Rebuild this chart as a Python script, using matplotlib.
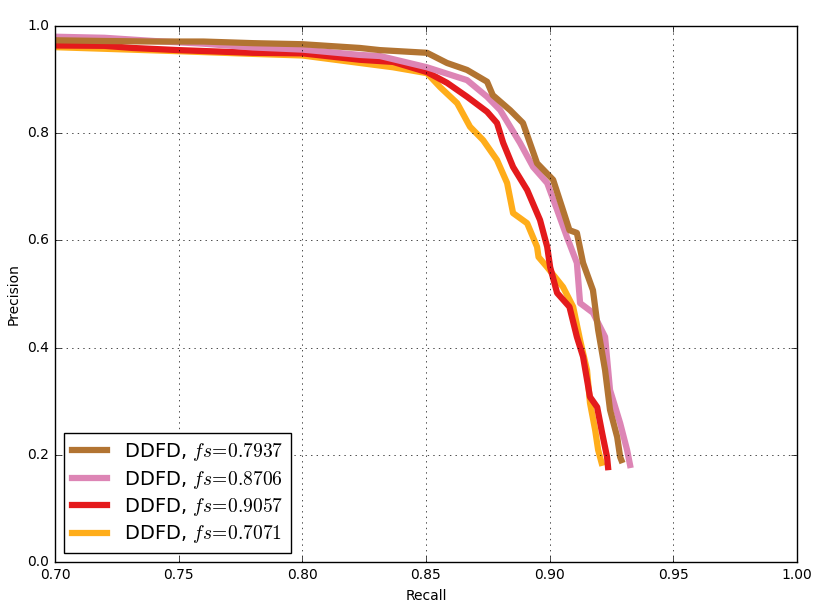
import numpy as np
import matplotlib
matplotlib.use('Agg')
import matplotlib.pyplot as plt

plt.style.use('classic')
plt.rcParams['font.size'] = 10
plt.rcParams['figure.facecolor'] = 'white'
plt.rcParams['savefig.facecolor'] = 'white'

# curves (recall, precision)
brown_recall = [0.69, 0.72, 0.74, 0.76, 0.78, 0.80, 0.8233, 0.8314, 0.8504, 0.8585, 0.8666,
                0.8747, 0.877, 0.884, 0.8892, 0.892, 0.8949, 0.9014, 0.905, 0.908, 0.911,
                0.9135, 0.9175, 0.9196, 0.9224, 0.9244, 0.9273, 0.9285, 0.929]
brown_precision = [0.974, 0.972, 0.971, 0.971, 0.968, 0.966, 0.959, 0.955, 0.950, 0.931, 0.918,
                   0.896, 0.871, 0.843, 0.819, 0.782, 0.744, 0.713, 0.662, 0.619, 0.614,
                   0.558, 0.507, 0.433, 0.358, 0.284, 0.233, 0.196, 0.190]

pink_recall = [0.69, 0.72, 0.74, 0.76, 0.78, 0.80, 0.8233, 0.8314, 0.8504, 0.8666, 0.8747,
               0.880, 0.888, 0.8933, 0.899, 0.903, 0.907, 0.911, 0.9123, 0.9175, 0.9224,
               0.9244, 0.9285, 0.9313, 0.9325]
pink_precision = [0.981, 0.978, 0.972, 0.967, 0.960, 0.956, 0.946, 0.944, 0.923, 0.899, 0.868,
                  0.843, 0.782, 0.737, 0.707, 0.657, 0.606, 0.558, 0.483, 0.465, 0.420,
                  0.321, 0.259, 0.209, 0.181]

red_recall = [0.69, 0.72, 0.7315, 0.75, 0.78, 0.80, 0.8233, 0.8367, 0.8504, 0.8585, 0.8666,
              0.8747, 0.8787, 0.8812, 0.8852, 0.8909, 0.8961, 0.899, 0.9002, 0.903, 0.908,
              0.911, 0.9135, 0.9163, 0.9192, 0.9212, 0.9232, 0.9236]
red_precision = [0.964, 0.963, 0.959, 0.955, 0.950, 0.949, 0.937, 0.933, 0.914, 0.894, 0.868,
                 0.840, 0.819, 0.782, 0.737, 0.694, 0.638, 0.588, 0.550, 0.502, 0.476,
                 0.420, 0.383, 0.308, 0.289, 0.241, 0.196, 0.177]

orange_recall = [0.69, 0.75, 0.78, 0.80, 0.8233, 0.8367, 0.8504, 0.8557, 0.8626, 0.8678,
                 0.8731, 0.8787, 0.8828, 0.8852, 0.8909, 0.8949, 0.8955, 0.899, 0.9054,
                 0.9095, 0.9123, 0.9151, 0.9163, 0.9184, 0.9196, 0.921]
orange_precision = [0.962, 0.953, 0.948, 0.945, 0.931, 0.923, 0.912, 0.886, 0.856, 0.812,
                    0.787, 0.750, 0.707, 0.651, 0.632, 0.588, 0.569, 0.550, 0.513,
                    0.476, 0.414, 0.358, 0.297, 0.246, 0.209, 0.185]

labels = [r'DDFD, $fs\!=\!0.7937$', r'DDFD, $fs\!=\!0.8706$',
          r'DDFD, $fs\!=\!0.9057$', r'DDFD, $fs\!=\!0.7071$']
colors = ['#b27432', '#dd85b5', '#e41a1c', '#ffad1a']

fig = plt.figure(figsize=(8.31, 6.09), dpi=100)
ax = fig.add_axes([55 / 831, 1 - 562 / 609, 742 / 831, 536 / 609])

series = [(brown_recall, brown_precision), (pink_recall, pink_precision),
          (red_recall, red_precision), (orange_recall, orange_precision)]
handles = [None] * 4
# drawn back to front so the first legend entry sits on top
for i in [3, 2, 1, 0]:
    r, p = series[i]
    handles[i], = ax.plot(r, p, color=colors[i], lw=4.5, label=labels[i])

ax.set_xlim(0.70, 1.00)
ax.set_ylim(0.0, 1.0)
ax.set_xticks(np.arange(0.70, 1.001, 0.05))
ax.set_yticks(np.arange(0.0, 1.001, 0.2))
ax.grid(True)
ax.set_xlabel('Recall')
ax.set_ylabel('Precision')
ax.legend(handles=handles, loc='lower left', fontsize=14, numpoints=1,
          handlelength=1.8, handletextpad=0.9, borderaxespad=0.45, labelspacing=0.28)

fig.savefig('out.png', dpi=100)
